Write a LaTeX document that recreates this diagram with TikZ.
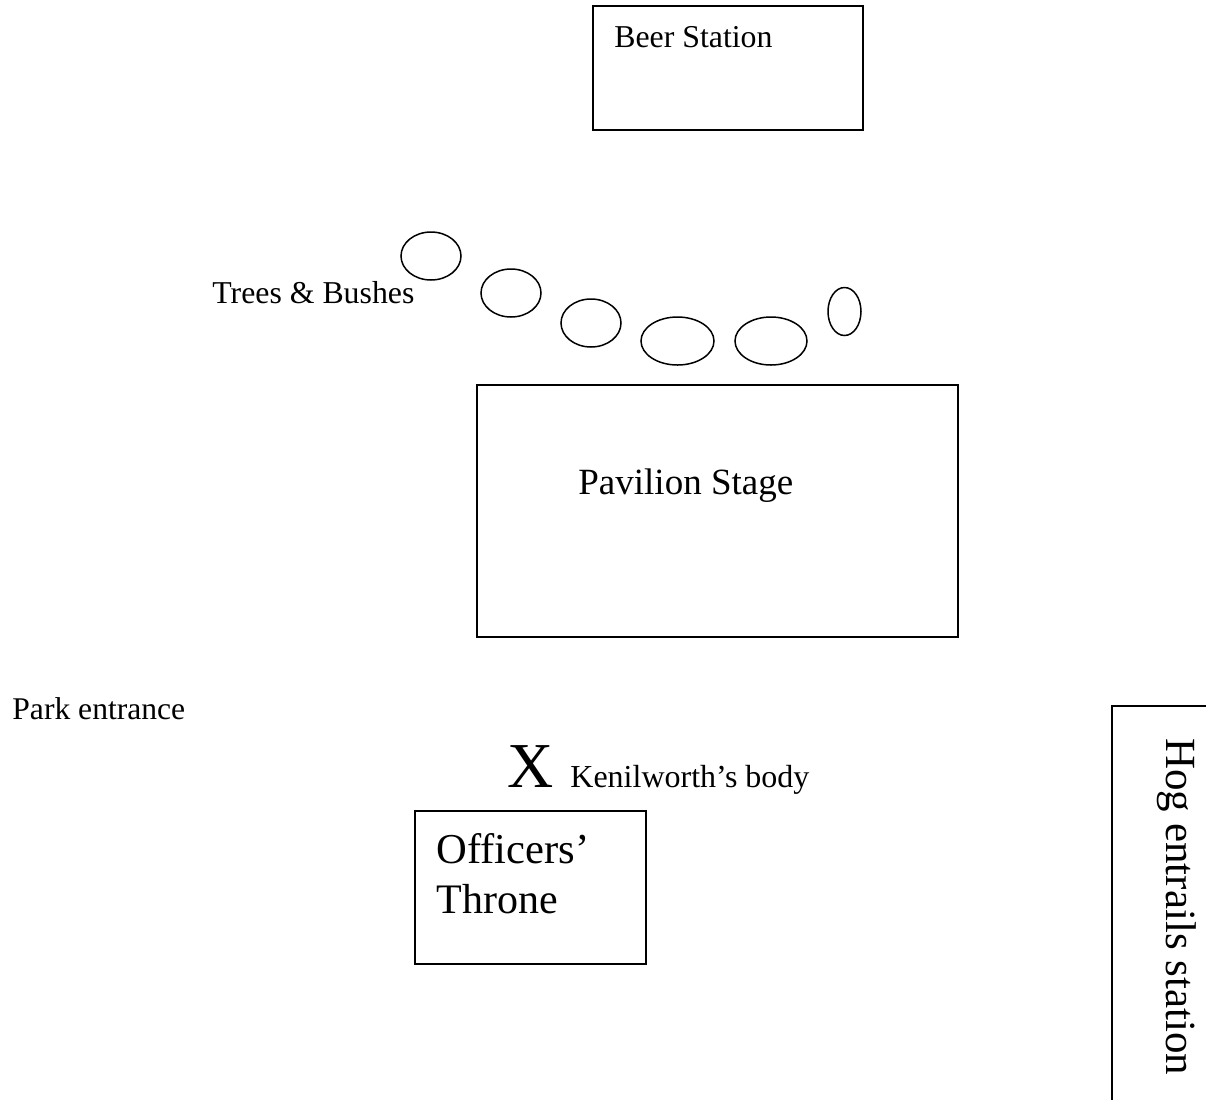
\documentclass[tikz,border=0pt]{standalone}
\usepackage{fontspec}
\setmainfont{Liberation Serif}
\usetikzlibrary{shapes.geometric}
\tikzset{
  x=0.5pt, y=-0.5pt,
  boxline/.style={draw, line width=1pt, rectangle, inner sep=0pt, outer sep=0pt},
  treeline/.style={draw, line width=0.75pt, ellipse, inner sep=0pt, minimum height=24pt},
  plantext/.style={anchor=base west, inner sep=0pt}
}
\newcommand{\fpbox}[4] {\node at (#1) (#2) [boxline, anchor=north west, minimum width=#3, minimum height=#4] {};}
\newcommand{\fptree}[3] {\node at (#1) (#2) [treeline, minimum width=#3] {};}
\newcommand{\fplabel}[4] {\node at (#1) (#2) [plantext] {\fontsize{#3}{#3}\selectfont #4};}
\begin{document}
\begin{tikzpicture}
\useasboundingbox (0,0) rectangle (1206,1099);

\fpbox {593,6} {beer} {135pt} {62pt};
\fpbox {477,385} {stage} {240.5pt} {126pt};
\fpbox {415,811} {throne} {115.5pt} {76.5pt};
\fpbox {1111.5,706} {hog} {100pt} {250pt};

\fptree {431,256} {tree1} {30pt};
\fptree {511,293} {tree2} {30pt};
\fptree {591,323} {tree3} {30pt};
\fptree {677.5,341} {tree4} {36.5pt};
\fptree {771,341} {tree5} {36pt};
\fptree {844.5,311.5} {tree6} {16.5pt};

\fplabel {614,47} {beertext} {15.9pt} {Beer Station};
\fplabel {212,303} {treetext} {15.9pt} {Trees \& Bushes};
\fplabel {578,494} {stagetext} {18.5pt} {Pavilion Stage};
\fplabel {12,719} {parktext} {15.8pt} {Park entrance};
\fplabel {507,787} {xmark} {32pt} {X};
\fplabel {570,787} {bodytext} {16pt} {Kenilworth’s body};
\fplabel {436,863} {throneone} {21.3pt} {Officers’};
\fplabel {436.5,913} {thronetwo} {21pt} {Throne};

\node at (1166,738) (hogtext) [plantext, rotate=-90] {\fontsize{21.5pt}{21.5pt}\selectfont Hog entrails station};
\end{tikzpicture}
\end{document}
